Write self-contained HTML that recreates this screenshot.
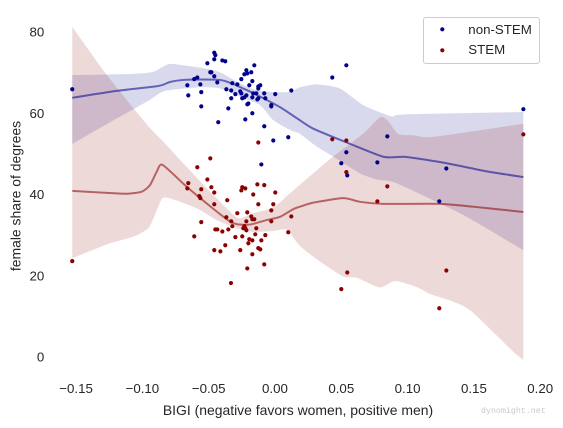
<!DOCTYPE html>
<html>
<head>
<meta charset="utf-8">
<title>Female share of degrees vs BIGI</title>
<style>
html,body{margin:0;padding:0;background:#fff;width:563px;height:428px;overflow:hidden}
svg{display:block;filter:blur(0.3px)}
text{font-family:"Liberation Sans",sans-serif;fill:#262626}
</style>
</head>
<body>
<svg id="chart" width="563" height="428" viewBox="0 0 563 428" xmlns="http://www.w3.org/2000/svg">
  <g id="bands"></g>
  <g id="lines"></g>
  <g id="points"></g>
  <g id="xticks"></g>
  <g id="yticks"></g>
  <text x="298" y="415" text-anchor="middle" font-size="13.95">BIGI (negative favors women, positive men)</text>
  <text transform="translate(20.5,196) rotate(-90)" text-anchor="middle" font-size="13.95">female share of degrees</text>
  <text x="481" y="413" font-size="8.3" style="font-family:'Liberation Mono',monospace;fill:#c8c8c8">dynomight.net</text>
  <g>
    <rect x="423.5" y="17.5" width="116" height="46" rx="2.5" fill="#fff" fill-opacity="0.8" stroke="#cccccc" stroke-width="1"></rect>
    <circle cx="442.3" cy="29.3" r="2.1" fill="#00008b"></circle>
    <text x="468.3" y="34" font-size="13.3">non-STEM</text>
    <circle cx="442.3" cy="50.3" r="2.1" fill="#8b0000"></circle>
    <text x="468.3" y="54" font-size="13.3">STEM</text>
  </g>
</svg>
<script>
const xTickValues = [-0.15, -0.10, -0.05, 0.00, 0.05, 0.10, 0.15, 0.20];
const xTickLabels = ['\u22120.15', '\u22120.10', '\u22120.05', '0.00', '0.05', '0.10', '0.15', '0.20'];
const yTickValues = [0, 20, 40, 60, 80];
const yTickLabels = ['0', '20', '40', '60', '80'];

const nonStemX = [-0.1529,-0.0458,-0.0450,-0.0458,-0.0397,-0.0375,-0.0510,-0.0156,-0.0216,-0.0209,-0.0231,-0.0179,-0.0488,-0.0480,-0.0458,-0.0586,-0.0609,-0.0254,-0.0171,-0.0435,-0.0563,-0.0661,-0.0322,-0.0284,-0.0194,-0.0111,-0.0126,-0.0126,-0.0367,-0.0330,-0.0262,-0.0556,-0.0654,-0.0299,-0.0254,-0.0164,-0.0141,-0.0081,0.0002,0.0123,-0.0216,-0.0231,-0.0247,-0.0330,-0.0171,-0.0126,-0.0133,-0.0073,-0.0201,-0.0209,-0.0028,-0.0028,-0.0556,-0.0352,-0.0171,-0.0224,-0.0428,-0.0081,-0.0013,0.0100,-0.0103,0.0538,0.0432,0.1873,0.0847,0.0538,0.0500,0.0772,0.1292,0.0545,0.1239];
const nonStemY = [65.9,74.9,74.3,73.3,73.0,72.8,72.3,71.8,70.6,69.8,69.6,70.1,70.1,70.1,69.1,68.8,68.4,68.4,67.9,67.6,67.1,66.9,67.4,67.1,66.9,66.9,66.6,66.1,65.9,65.6,65.4,65.2,64.4,64.7,64.9,64.9,64.9,64.9,64.7,65.6,64.4,63.9,63.7,63.7,63.9,63.7,63.4,63.7,62.4,62.2,62.0,61.7,61.7,61.2,60.0,58.5,57.8,56.8,53.3,54.1,47.4,71.8,68.8,61.0,54.3,50.4,47.7,47.9,46.4,44.7,38.3];

const stemX = [-0.1529,-0.0126,-0.0488,-0.0586,-0.0510,-0.0654,-0.0661,-0.0556,-0.0480,-0.0458,-0.0247,-0.0224,-0.0254,-0.0133,-0.0081,-0.0164,0.0002,-0.0571,-0.0563,-0.0360,-0.0458,-0.0126,-0.0013,-0.0028,-0.0284,-0.0209,-0.0179,-0.0367,0.0123,-0.0171,-0.0156,-0.0330,-0.0216,-0.0028,-0.0556,-0.0322,-0.0231,-0.0239,-0.0224,-0.0450,-0.0435,-0.0352,-0.0141,-0.0397,-0.0216,0.0100,-0.0149,-0.0073,-0.0609,-0.0299,-0.0247,-0.0194,-0.0171,-0.0103,-0.0201,-0.0375,-0.0126,-0.0111,-0.0458,-0.0412,-0.0262,-0.0171,-0.0081,-0.0209,-0.0332,0.0432,0.0538,0.1873,0.0538,0.0847,0.0772,0.0545,0.0500,0.1292,0.1239];
const stemY = [23.6,52.8,48.9,46.7,43.7,42.8,41.5,41.3,41.8,40.5,41.8,41.5,41.0,42.5,42.3,40.0,40.5,39.6,39.1,38.6,37.6,37.6,37.6,36.1,35.4,35.6,34.6,34.4,34.6,33.9,33.9,33.4,33.4,33.4,33.2,32.2,32.2,31.7,31.7,31.4,31.4,31.4,31.7,30.9,31.2,30.7,30.2,30.0,29.7,29.5,29.7,29.0,28.7,28.7,28.0,27.5,26.8,26.5,26.3,26.0,26.3,25.3,22.8,21.8,18.2,53.6,53.3,54.8,45.5,42.0,38.3,20.8,16.7,21.3,12.0];

const nonStemLineX = [-0.1529,-0.1194,-0.0880,-0.0792,-0.0692,-0.0566,-0.0415,-0.0339,-0.0213,-0.0088,0.0038,0.0164,0.0289,0.0541,0.0817,0.0968,0.1069,0.1295,0.1597,0.1873];
const nonStemLineY = [63.8,65.5,66.7,67.7,68.2,68.3,68.2,67.5,65.7,63.7,61.5,58.8,56.2,52.8,49.3,49.3,48.9,47.7,45.7,44.3];
const nonStemUpperX = [-0.1529,-0.1069,-0.0918,-0.0805,-0.0692,-0.0541,-0.0415,-0.0289,-0.0164,-0.0013,0.0113,0.0189,0.0314,0.0490,0.0666,0.0880,0.0968,0.1873];
const nonStemUpperY = [69.4,69.7,70.2,72.1,71.8,71.1,70.1,67.8,65.9,65.2,65.3,66.4,67.1,66.1,62.0,59.2,59.7,60.3];
const nonStemLowerX = [-0.1529,-0.1345,-0.1069,-0.0943,-0.0830,-0.0566,-0.0415,-0.0264,-0.0113,-0.0013,0.0113,0.0189,0.0314,0.0440,0.0641,0.0777,0.0890,0.1192,0.1446,0.1873];
const nonStemLowerY = [52.4,55.9,61.0,63.3,65.5,66.4,66.1,64.1,62.0,58.3,55.9,54.9,51.8,49.3,45.2,43.6,43.1,38.6,34.5,26.3];

const stemLineX = [-0.1529,-0.1320,-0.1118,-0.1005,-0.0943,-0.0892,-0.0848,-0.0666,-0.0515,-0.0364,-0.0289,-0.0189,-0.0063,0.0038,0.0138,0.0189,0.0289,0.0515,0.0641,0.0817,0.1244,0.1495,0.1873];
const stemLineY = [40.9,40.5,40.2,40.7,42.3,45.6,47.3,41.9,37.8,33.9,32.7,32.6,33.7,34.5,36.4,37.0,38.0,39.1,38.2,37.7,37.7,37.0,35.7];
const stemUpperX = [-0.1529,-0.1295,-0.1069,-0.0930,-0.0842,-0.0666,-0.0490,-0.0314,-0.0264,-0.0164,-0.0013,0.0113,0.0287,0.0437,0.0666,0.0792,0.0847,0.0930,0.1043,0.1194,0.1873];
const stemUpperY = [81.3,70.6,61.3,55.9,53.0,46.8,40.7,35.0,34.1,35.4,36.8,40.3,45.2,49.3,55.0,59.0,58.3,54.9,54.6,54.2,57.4];
const stemLowerX = [-0.1529,-0.1244,-0.1069,-0.0955,-0.0905,-0.0848,-0.0767,-0.0590,-0.0440,-0.0289,-0.0164,-0.0013,0.0088,0.0189,0.0339,0.0515,0.0616,0.0792,0.0905,0.1069,0.1169,0.1345,0.1483,0.1797,0.1873];
const stemLowerY = [24.3,28.0,29.6,31.7,35.0,39.1,38.8,36.6,33.7,31.7,30.8,31.0,31.3,27.3,23.5,19.8,19.5,17.1,18.7,17.2,15.5,13.6,11.2,1.3,-0.7];

const SVGNS = 'http://www.w3.org/2000/svg';
function xScale(v) { return 275 + 1326 * v; }
function yScale(v) { return 357 - 4.0625 * v; }
function make(tag, attrs) {
  const el = document.createElementNS(SVGNS, tag);
  Object.keys(attrs).forEach(function (k) { el.setAttribute(k, attrs[k]); });
  return el;
}
function toPixels(xs, ys) {
  return xs.map(function (x, i) { return [xScale(x), yScale(ys[i])]; });
}
/* Gentle Catmull-Rom segments through the pixel knots, without the leading move. */
function curveThrough(p) {
  const k = 0.11;
  let d = '';
  for (let i = 0; i < p.length - 1; i++) {
    const p0 = p[Math.max(i - 1, 0)];
    const p1 = p[i];
    const p2 = p[i + 1];
    const p3 = p[Math.min(i + 2, p.length - 1)];
    d += ' C' + (p1[0] + (p2[0] - p0[0]) * k).toFixed(2) + ' ' + (p1[1] + (p2[1] - p0[1]) * k).toFixed(2) +
      ' ' + (p2[0] - (p3[0] - p1[0]) * k).toFixed(2) + ' ' + (p2[1] - (p3[1] - p1[1]) * k).toFixed(2) +
      ' ' + p2[0].toFixed(2) + ' ' + p2[1].toFixed(2);
  }
  return d;
}
function linePath(xs, ys) {
  const p = toPixels(xs, ys);
  return 'M' + p[0][0].toFixed(2) + ' ' + p[0][1].toFixed(2) + curveThrough(p);
}
function bandPath(ux, uy, lx, ly) {
  const up = toPixels(ux, uy);
  const low = toPixels(lx, ly).reverse();
  return 'M' + up[0][0].toFixed(2) + ' ' + up[0][1].toFixed(2) + curveThrough(up) +
    ' L' + low[0][0].toFixed(2) + ' ' + low[0][1].toFixed(2) + curveThrough(low) + ' Z';
}

const bandsGroup = document.getElementById('bands');
const linesGroup = document.getElementById('lines');
const pointsGroup = document.getElementById('points');
const xGroup = document.getElementById('xticks');
const yGroup = document.getElementById('yticks');

const nonStemBand = make('path', {
  d: bandPath(nonStemUpperX, nonStemUpperY, nonStemLowerX, nonStemLowerY),
  fill: '#00008b', 'fill-opacity': 0.15
});


bandsGroup.appendChild(nonStemBand);

const stemBand = make('path', {
  d: bandPath(stemUpperX, stemUpperY, stemLowerX, stemLowerY),
  fill: '#8b0000', 'fill-opacity': 0.15
});


bandsGroup.appendChild(stemBand);

const nonStemLine = make('path', {
  d: linePath(nonStemLineX, nonStemLineY),
  fill: 'none', stroke: '#00008b', 'stroke-opacity': 0.55, 'stroke-width': 2, 'stroke-linejoin': 'round'
});


linesGroup.appendChild(nonStemLine);

const stemLine = make('path', {
  d: linePath(stemLineX, stemLineY),
  fill: 'none', stroke: '#8b0000', 'stroke-opacity': 0.55, 'stroke-width': 2, 'stroke-linejoin': 'round'
});


linesGroup.appendChild(stemLine);

nonStemX.forEach(function (x, i) {
  const dot = make('circle', { cx: xScale(x).toFixed(2), cy: yScale(nonStemY[i]).toFixed(2), r: 2.1, fill: '#00008b' });
  
  
  pointsGroup.appendChild(dot);
});
stemX.forEach(function (x, i) {
  const dot = make('circle', { cx: xScale(x).toFixed(2), cy: yScale(stemY[i]).toFixed(2), r: 2.1, fill: '#8b0000' });
  
  
  pointsGroup.appendChild(dot);
});

xTickValues.forEach(function (v, i) {
  const t = make('text', { x: xScale(v).toFixed(2), y: 393, 'text-anchor': 'middle', 'font-size': 13.3 });
  
  
  t.textContent = xTickLabels[i];
  xGroup.appendChild(t);
});
yTickValues.forEach(function (v, i) {
  const t = make('text', { x: 44.3, y: (yScale(v) + 4.7).toFixed(2), 'text-anchor': 'end', 'font-size': 13.3 });
  
  
  t.textContent = yTickLabels[i];
  yGroup.appendChild(t);
});
</script>
</body>
</html>
